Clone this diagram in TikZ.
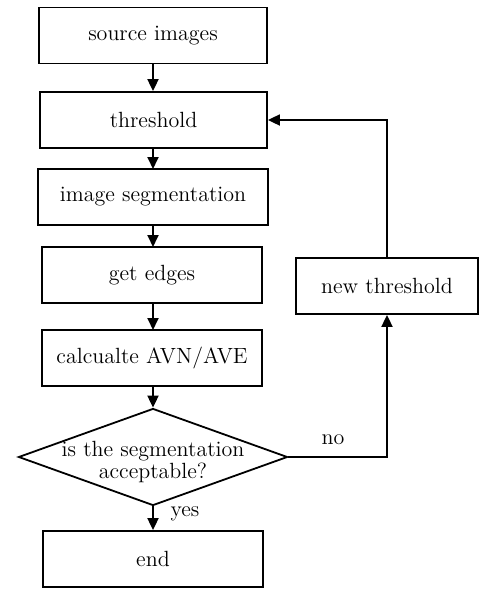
\documentclass[tikz,border=0pt]{standalone}
\usepackage{tikz}
\usetikzlibrary{shapes.geometric,arrows.meta}

\tikzset{
	proc/.style={draw, line width=0.9pt, minimum height=28pt, inner sep=2pt},
	decide/.style={draw, diamond, line width=0.9pt, inner sep=0pt,
		minimum width=134.5pt, minimum height=48.5pt},
	flow/.style={line width=0.9pt, ->},
}

\begin{document}
\begin{tikzpicture}[x=0.5pt, y=-0.5pt, font=\fontsize{11}{13}\selectfont,
		>={Triangle[length=6pt,width=5.5pt]}]
			\useasboundingbox (0,0) rectangle (486,590);
			% main column
			\node[proc, minimum width=114pt] (src) at (153,35.5) {source images};
			\node[proc, minimum width=113.5pt] (thr) at (153.5,120) {threshold};
			\node[proc, minimum width=115pt] (seg) at (153,197) {image segmentation};
			\node[proc, minimum width=110pt] (edge) at (152,275) {get edges};
			\node[proc, minimum width=110pt] (calc) at (152,358) {calcualte AVN/AVE};
			\node[decide] (chk) at (153,457) {};
			\node[align=center] (chktxt) at (153,462) {is the segmentation\\[-2pt]acceptable?};
			\node[proc, minimum width=110pt] (stop) at (153,559) {end};
			% feedback branch
			\node[proc, minimum width=91pt] (newthr) at (387,286) {new threshold};
			\coordinate (loopturn) at (387,457);
			\coordinate (looptop) at (387,120);
			% arrows
			\draw[flow] (src.south) -- (src.south |- thr.north);
			\draw[flow] (153,148) -- (153,169);
			\draw[flow] (153,225) -- (153,247);
			\draw[flow] (153,303) -- (153,330);
			\draw[flow] (153,386) -- (chk.north);
			\draw[flow] (chk.south) -- (chk.south |- stop.north);
			\draw[flow] (chk.east) -- (loopturn) -- (newthr.south);
			\draw[flow] (newthr.north) -- (looptop) -- (thr.east);
			% branch labels
			\node (nolbl) at (333,440) {no};
			\node (yeslbl) at (185,514) {yes};
		\end{tikzpicture}
\end{document}
